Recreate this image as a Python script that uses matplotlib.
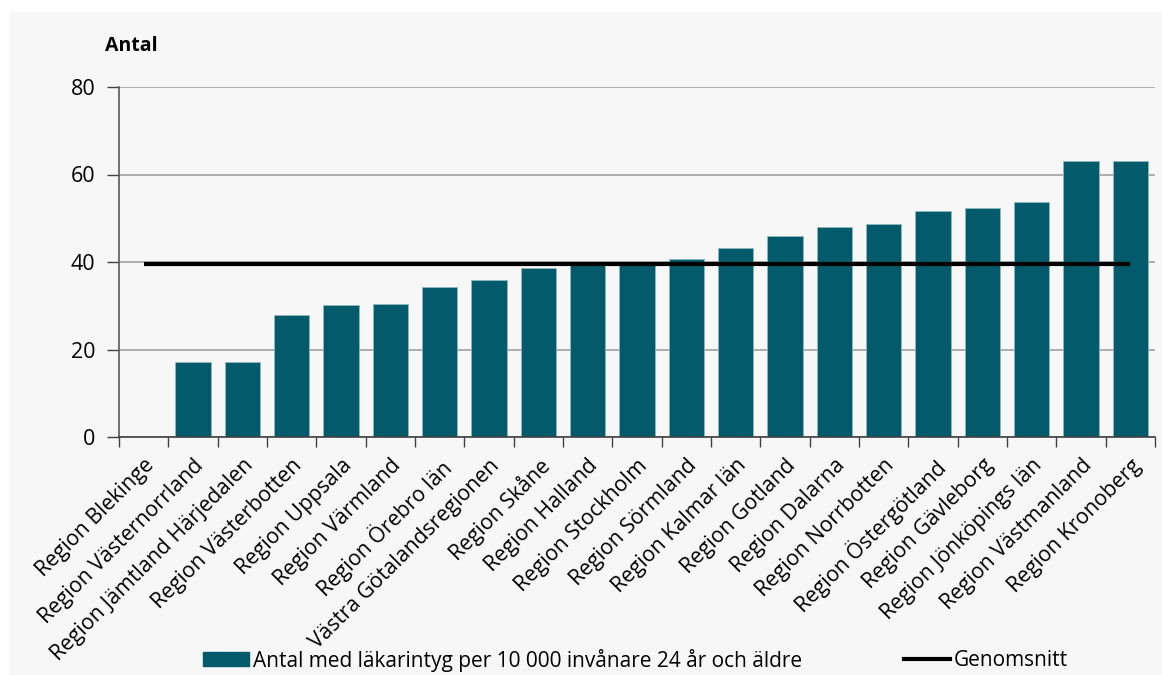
import matplotlib.pyplot as plt
import matplotlib.patches as mpatches
from matplotlib.lines import Line2D
import numpy as np

plt.rcParams['font.family'] = ['Open Sans', 'DejaVu Sans']

regions = ['Region Blekinge', 'Region Västernorrland', 'Region Jämtland Härjedalen',
           'Region Västerbotten', 'Region Uppsala', 'Region Värmland', 'Region Örebro län',
           'Västra Götalandsregionen', 'Region Skåne', 'Region Halland', 'Region Stockholm',
           'Region Sörmland', 'Region Kalmar län', 'Region Gotland', 'Region Dalarna',
           'Region Norrbotten', 'Region Östergötland', 'Region Gävleborg',
           'Region Jönköpings län', 'Region Västmanland', 'Region Kronoberg']
antal = [np.nan, 17.1, 17.1, 28.0, 30.1, 30.3, 34.4, 35.9, 38.6, 39.6, 39.6,
         40.7, 43.1, 45.9, 48.1, 48.8, 51.6, 52.3, 53.7, 63.1, 63.1]
genomsnitt = [39.5] * len(regions)

bar_color = '#025a6a'

fig = plt.figure(figsize=(11.62, 6.75), dpi=100, facecolor='white')
# light grey panel behind the chart
bg = mpatches.Rectangle((10 / 1162, 0), 1 - 10 / 1162, 1 - 12 / 675,
                        transform=fig.transFigure, facecolor='#f7f7f7',
                        edgecolor='none', zorder=-10)
fig.add_artist(bg)

ax = fig.add_axes([119 / 1162, 1 - 437 / 675, (1155 - 119) / 1162, (437 - 87) / 675])
ax.set_facecolor('none')

x = np.arange(len(regions))
ax.bar(x, antal, width=0.72, color=bar_color, edgecolor='#8fb8bf', linewidth=0.6, zorder=2)
ax.plot(x, genomsnitt, color='black', lw=3, zorder=3, solid_capstyle='butt')

ax.set_xlim(-0.5, len(regions) - 0.5)
ax.set_ylim(0, 80)
ax.set_yticks([0, 20, 40, 60, 80])
ax.yaxis.grid(True, color='#a0a0a0', lw=1.2, zorder=0)
ax.set_axisbelow(True)

ax.set_xticks(x)
ax.set_xticklabels(regions, rotation=45, ha='right', rotation_mode='anchor', fontsize=15.3)
ax.set_xticks(np.arange(-0.5, len(regions)), minor=True)
ax.tick_params(axis='x', which='major', length=0, pad=13)
ax.tick_params(axis='x', which='minor', length=7, width=1, color='#404040')
ax.tick_params(axis='y', length=9, width=1, color='#404040', labelsize=15.5, pad=8)

for s in ['top', 'right']:
    ax.spines[s].set_visible(False)
ax.spines['left'].set_color('#595959')
ax.spines['bottom'].set_color('#404040')
ax.spines['left'].set_linewidth(1.2)
ax.spines['bottom'].set_linewidth(1.2)

fig.text(105 / 1162, 1 - 46 / 675, 'Antal', fontsize=14, fontweight='bold', va='center')

handles = [mpatches.Patch(color=bar_color),
           Line2D([], [], color='black', lw=3)]
labels = ['Antal med läkarintyg per 10 000 invånare 24 år och äldre', 'Genomsnitt']
fig.legend(handles, labels, loc='center left', bbox_to_anchor=(203 / 1162, 1 - 660 / 675),
           ncol=2, frameon=False, fontsize=15, handlelength=2.2, handleheight=0.65,
           handletextpad=0.2, columnspacing=4.9, borderpad=0, borderaxespad=0)

plt.savefig('out.png', dpi=100)
